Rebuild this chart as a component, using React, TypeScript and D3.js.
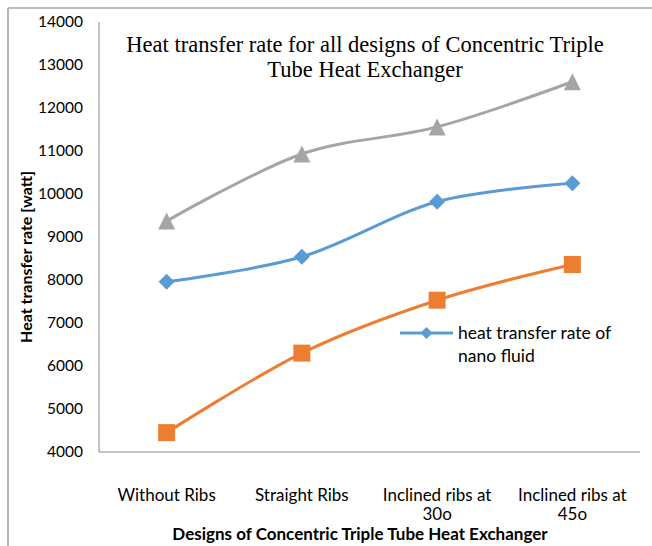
import React from "react";
import * as d3 from "d3";

const categories: string[][] = [
  ["Without Ribs"],
  ["Straight Ribs"],
  ["Inclined ribs at", "30o"],
  ["Inclined ribs at", "45o"],
];
const nanoFluid = [7960, 8540, 9820, 10250];
const orangeSeries = [4450, 6300, 7530, 8360];
const graySeries = [9370, 10930, 11560, 12610];
const yTicks = [4000, 5000, 6000, 7000, 8000, 9000, 10000, 11000, 12000, 13000, 14000];
const titleLines = ["Heat transfer rate for all designs of Concentric Triple", "Tube Heat Exchanger"];
const yTitle = "Heat transfer rate [watt]";
const xTitle = "Designs of Concentric Triple Tube Heat Exchanger";
const legendLines = ["heat transfer rate of", "nano fluid"];

const W = 652;
const H = 546;
const left = 99;
const right = 640;
const top = 22;
const bottom = 452;
const sansFont = "Lato, 'Open Sans', sans-serif";

export default function App() {
  const x = d3
    .scaleBand<number>()
    .domain(categories.map((_, i) => i))
    .range([left, right]);
  const cx = (i: number) => (x(i) as number) + x.bandwidth() / 2;
  const y = d3.scaleLinear().domain([4000, 14000]).range([bottom, top]);
  const line = d3
    .line<number>()
    .x((_, i) => cx(i))
    .y((d) => y(d))
    .curve(d3.curveCatmullRom.alpha(0));

  const blue = "#5B9BD5";
  const orange = "#ED7D31";
  const gray = "#A5A5A5";
  const axisColor = "#898989";

  const diamond = (px: number, py: number, r: number) =>
    `M${px},${py - r}L${px + r},${py}L${px},${py + r}L${px - r},${py}Z`;
  const triangle = (px: number, py: number, s: number) =>
    `M${px},${py - s / 2}L${px + s / 2},${py + s / 2}L${px - s / 2},${py + s / 2}Z`;

  return (
    <svg
      width={W}
      height={H}
      style={{ position: "absolute", left: 0, top: 0, background: "#fff" }}
    >
      {/* frame */}
      <line x1={8} y1={8} x2={W} y2={8} stroke="#a6a6a6" strokeWidth={1.5} />
      <line x1={8} y1={8} x2={8} y2={H} stroke="#b5b5b5" strokeWidth={2} />

      {/* axes */}
      <line x1={left} y1={top} x2={left} y2={bottom} stroke={axisColor} strokeWidth={1} />
      <line x1={left} y1={bottom} x2={right} y2={bottom} stroke={axisColor} strokeWidth={1} />

      {/* y tick labels */}
      {yTicks.map((t) => (
        <text
          key={t}
          x={83}
          y={y(t)}
          dy="0.35em"
          textAnchor="end"
          fontFamily={sansFont}
          fontSize={15.5}
          fill="#000"
        >
          {t}
        </text>
      ))}

      {/* x labels */}
      {categories.map((c, i) =>
        c.map((s, j) => (
          <text
            key={`${i}-${j}`}
            x={cx(i)}
            y={501 + j * 19}
            textAnchor="middle"
            fontFamily={sansFont}
            fontSize={17}
            fill="#000"
          >
            {s}
          </text>
        ))
      )}

      {/* axis titles */}
      <text
        x={360}
        y={540}
        textAnchor="middle"
        fontFamily={sansFont}
        fontSize={17}
        fontWeight="bold"
        fill="#000"
      >
        {xTitle}
      </text>
      <text
        transform={`translate(32,257) rotate(-90)`}
        textAnchor="middle"
        fontFamily={sansFont}
        fontSize={16}
        fontWeight="bold"
        fill="#000"
      >
        {yTitle}
      </text>

      {/* title */}
      {titleLines.map((s, i) => (
        <text
          key={i}
          x={365}
          y={52 + i * 25}
          textAnchor="middle"
          fontFamily="'Liberation Serif', 'Times New Roman', serif"
          fontSize={22.5}
          fill="#000"
        >
          {s}
        </text>
      ))}

      {/* series lines */}
      <path d={line(graySeries) || ""} fill="none" stroke={gray} strokeWidth={3} />
      <path d={line(nanoFluid) || ""} fill="none" stroke={blue} strokeWidth={3} />
      <path d={line(orangeSeries) || ""} fill="none" stroke={orange} strokeWidth={3} />

      {/* markers */}
      {graySeries.map((v, i) => (
        <path key={`g${i}`} d={triangle(cx(i), y(v), 17)} fill={gray} />
      ))}
      {nanoFluid.map((v, i) => (
        <path key={`b${i}`} d={diamond(cx(i), y(v), 8)} fill={blue} />
      ))}
      {orangeSeries.map((v, i) => (
        <rect key={`o${i}`} x={cx(i) - 8.5} y={y(v) - 8.5} width={17} height={17} fill={orange} />
      ))}

      {/* legend */}
      <line x1={400} y1={333} x2={453} y2={333} stroke={blue} strokeWidth={3} />
      <path d={diamond(426.5, 333, 6)} fill={blue} />
      {legendLines.map((s, i) => (
        <text
          key={i}
          x={458}
          y={339 + i * 23}
          fontFamily={sansFont}
          fontSize={17.5}
          fill="#000"
        >
          {s}
        </text>
      ))}
    </svg>
  );
}
